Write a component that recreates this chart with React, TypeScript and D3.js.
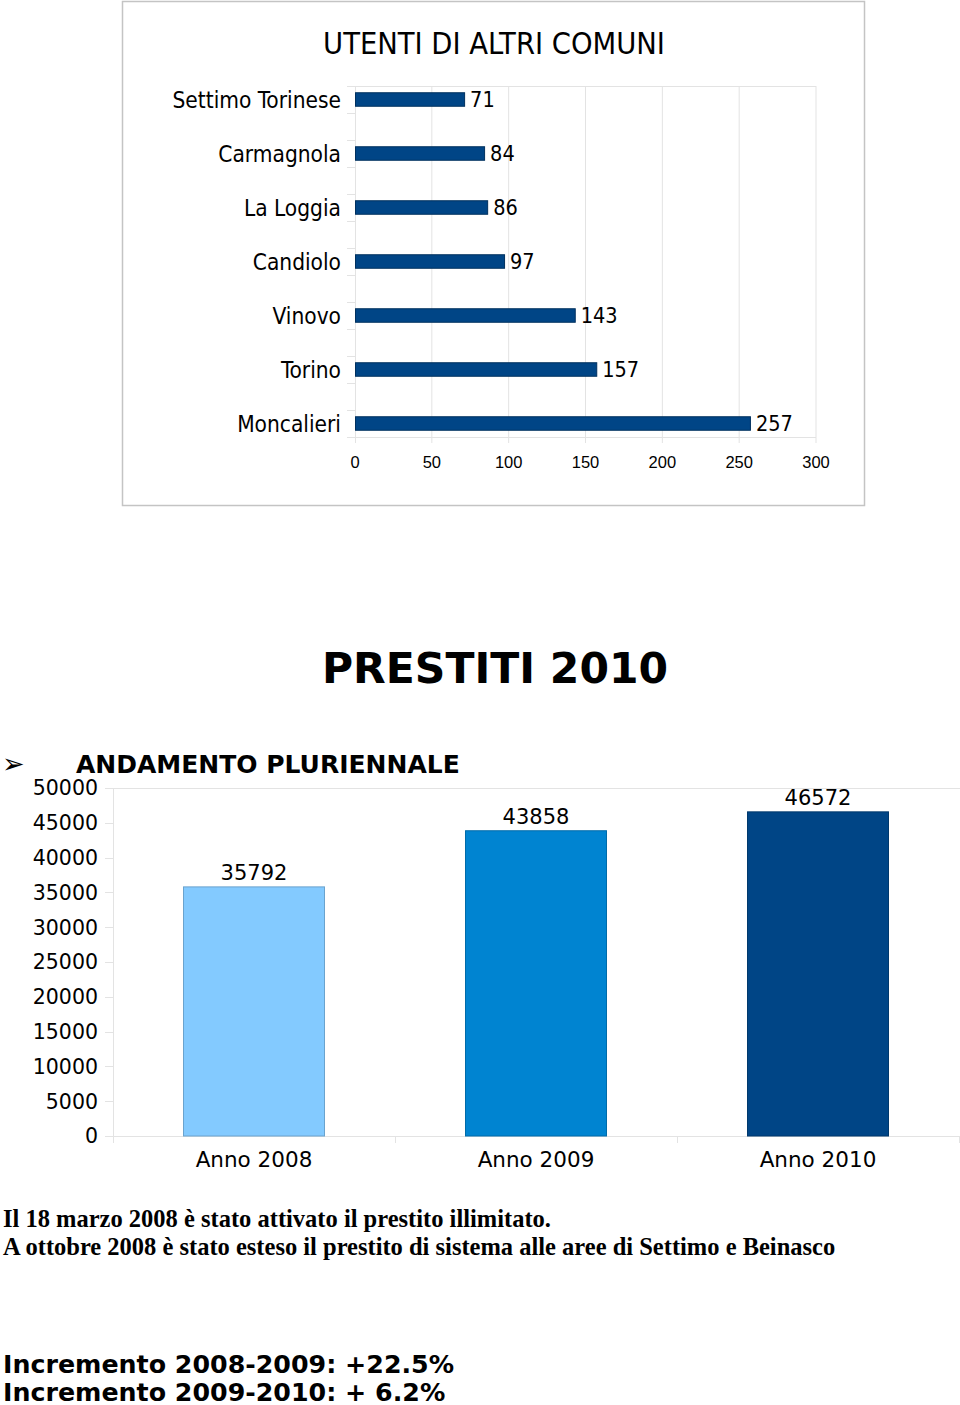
import React, { useEffect, useRef } from 'react';
import * as d3 from 'd3';

// top chart: users from other municipalities
const comuni = ['Settimo Torinese', 'Carmagnola', 'La Loggia', 'Candiolo', 'Vinovo', 'Torino', 'Moncalieri'];
const utenti = [71, 84, 86, 97, 143, 157, 257];
const utentiTicks = [0, 50, 100, 150, 200, 250, 300];

// bottom chart: loans per year
const anni = ['Anno 2008', 'Anno 2009', 'Anno 2010'];
const prestiti = [35792, 43858, 46572];
const prestitiColors = ['#83caff', '#0084d1', '#004586'];
const prestitiTicks = [0, 5000, 10000, 15000, 20000, 25000, 30000, 35000, 40000, 45000, 50000];

const noteLines = [
  'Il 18 marzo 2008 è stato attivato il prestito illimitato.',
  'A ottobre 2008 è stato esteso il prestito di sistema alle aree di Settimo e Beinasco',
];
const incrementi = ['Incremento 2008-2009: +22.5%', 'Incremento 2009-2010: + 6.2%'];

const COND = '"DejaVu Sans Condensed", "DejaVu Sans", sans-serif';
const VERD = '"DejaVu Sans", Verdana, sans-serif';
const GRID = '#e3e3e3';

const App = () => {
  const svgRef = useRef<SVGSVGElement | null>(null);

  useEffect(() => {
    const svg = d3.select(svgRef.current);
    svg.selectAll('*').remove();

    // ---------- top chart ----------
    svg.append('rect')
      .attr('x', 122.5).attr('y', 1.5).attr('width', 742).attr('height', 504)
      .attr('fill', 'white').attr('stroke', '#c4c4c4').attr('stroke-width', 1.5);

    svg.append('text')
      .attr('x', 494).attr('y', 54)
      .attr('text-anchor', 'middle')
      .attr('font-family', COND).attr('font-size', 30.5)
      .text('UTENTI DI ALTRI COMUNI');

    const x = d3.scaleLinear().domain([0, 300]).range([355, 816]);
    const y = d3.scaleBand().domain(comuni).range([86, 437]).paddingInner(0.5).paddingOuter(0);
    const bw = y.bandwidth();

    const top = svg.append('g');
    // vertical gridlines
    top.selectAll('.vgrid').data(utentiTicks.slice(1)).enter().append('line')
      .attr('x1', d => x(d)).attr('x2', d => x(d))
      .attr('y1', 86).attr('y2', 443)
      .attr('stroke', GRID);
    top.append('line').attr('x1', 355).attr('x2', 816).attr('y1', 86.5).attr('y2', 86.5).attr('stroke', GRID);
    top.append('line').attr('x1', 355).attr('x2', 816).attr('y1', 437.5).attr('y2', 437.5).attr('stroke', GRID);
    top.append('line').attr('x1', 355.5).attr('x2', 355.5).attr('y1', 86).attr('y2', 443).attr('stroke', GRID);

    // category ticks at band edges
    const edges: number[] = [];
    comuni.forEach(c => { edges.push(y(c)!); edges.push(y(c)! + bw); });
    top.selectAll('.ytick').data(edges).enter().append('line')
      .attr('x1', 347).attr('x2', 355)
      .attr('y1', d => Math.round(d) + 0.5).attr('y2', d => Math.round(d) + 0.5)
      .attr('stroke', GRID);

    top.selectAll('.xlab').data(utentiTicks).enter().append('text')
      .attr('x', d => x(d)).attr('y', 468)
      .attr('text-anchor', 'middle')
      .attr('font-family', '"Liberation Sans", Arial, sans-serif').attr('font-size', 16.5)
      .text(d => d);

    top.selectAll('.bar').data(comuni).enter().append('rect')
      .attr('x', x(0) + 0.5)
      .attr('y', d => y(d)! + bw / 4)
      .attr('width', (d, i) => x(utenti[i]) - x(0))
      .attr('height', bw / 2)
      .attr('fill', '#004586')
      .attr('stroke', '#00305e').attr('stroke-width', 1);

    top.selectAll('.val').data(comuni).enter().append('text')
      .attr('x', (d, i) => x(utenti[i]) + 6)
      .attr('y', d => y(d)! + bw / 2)
      .attr('dy', '0.36em')
      .attr('font-family', COND).attr('font-size', 21.5)
      .text((d, i) => utenti[i]);

    top.selectAll('.cat').data(comuni).enter().append('text')
      .attr('x', 341)
      .attr('y', d => y(d)! + bw / 2)
      .attr('dy', '0.36em')
      .attr('text-anchor', 'end')
      .attr('font-family', COND).attr('font-size', 22.5)
      .text(d => d);

    // ---------- headings ----------
    svg.append('text')
      .attr('x', 495).attr('y', 683)
      .attr('text-anchor', 'middle')
      .attr('font-family', VERD).attr('font-weight', 'bold').attr('font-size', 42.5)
      .text('PRESTITI 2010');

    svg.append('text')
      .attr('x', 2).attr('y', 773)
      .attr('font-family', VERD).attr('font-size', 27)
      .text('➢');
    svg.append('text')
      .attr('x', 76).attr('y', 773)
      .attr('font-family', VERD).attr('font-weight', 'bold').attr('font-size', 25)
      .text('ANDAMENTO PLURIENNALE');

    // ---------- bottom chart ----------
    const xb = d3.scaleBand().domain(anni).range([113, 959]).paddingInner(0.5).paddingOuter(0.25);
    const yb = d3.scaleLinear().domain([0, 50000]).range([1136, 788]);

    const bot = svg.append('g');
    bot.append('line').attr('x1', 113).attr('x2', 960).attr('y1', 788.5).attr('y2', 788.5).attr('stroke', GRID);
    bot.append('line').attr('x1', 113).attr('x2', 960).attr('y1', 1136.5).attr('y2', 1136.5).attr('stroke', GRID);
    bot.append('line').attr('x1', 113.5).attr('x2', 113.5).attr('y1', 788).attr('y2', 1143).attr('stroke', GRID);

    bot.selectAll('.ytick').data(prestitiTicks).enter().append('line')
      .attr('x1', 105).attr('x2', 113)
      .attr('y1', d => Math.round(yb(d)) + 0.5).attr('y2', d => Math.round(yb(d)) + 0.5)
      .attr('stroke', GRID);

    const seps = anni.map(a => xb(a)! - xb.step() * 0.25 + xb.step());
    bot.selectAll('.xtick').data(seps).enter().append('line')
      .attr('x1', d => Math.round(d) + 0.5).attr('x2', d => Math.round(d) + 0.5)
      .attr('y1', 1136).attr('y2', 1143)
      .attr('stroke', GRID);

    bot.selectAll('.ylab').data(prestitiTicks).enter().append('text')
      .attr('x', 98).attr('y', d => yb(d))
      .attr('dy', '0.36em')
      .attr('text-anchor', 'end')
      .attr('font-family', VERD).attr('font-size', 20.5)
      .text(d => d);

    bot.selectAll('.bar').data(anni).enter().append('rect')
      .attr('x', d => xb(d)!)
      .attr('y', (d, i) => yb(prestiti[i]))
      .attr('width', xb.bandwidth())
      .attr('height', (d, i) => yb(0) - yb(prestiti[i]))
      .attr('fill', (d, i) => prestitiColors[i])
      .attr('stroke', (d, i) => d3.color(prestitiColors[i])!.darker(0.6).toString())
      .attr('stroke-width', 1);

    bot.selectAll('.val').data(anni).enter().append('text')
      .attr('x', d => xb(d)! + xb.bandwidth() / 2)
      .attr('y', (d, i) => yb(prestiti[i]) - 7)
      .attr('text-anchor', 'middle')
      .attr('font-family', VERD).attr('font-size', 21)
      .text((d, i) => prestiti[i]);

    bot.selectAll('.cat').data(anni).enter().append('text')
      .attr('x', d => xb(d)! + xb.bandwidth() / 2)
      .attr('y', 1167)
      .attr('text-anchor', 'middle')
      .attr('font-family', VERD).attr('font-size', 21.5)
      .text(d => d);

    // ---------- notes ----------
    svg.selectAll('.note').data(noteLines).enter().append('text')
      .attr('x', 3).attr('y', (d, i) => 1227 + i * 28)
      .attr('font-family', '"Liberation Serif", "Times New Roman", serif')
      .attr('font-weight', 'bold').attr('font-size', 24.5)
      .text(d => d);

    svg.selectAll('.incr').data(incrementi).enter().append('text')
      .attr('x', 3).attr('y', (d, i) => 1373 + i * 28)
      .attr('font-family', VERD).attr('font-weight', 'bold').attr('font-size', 25.3)
      .text(d => d);
  }, []);

  return (
    <div style={{ position: 'absolute', left: 0, top: 0, width: 960, height: 1405, background: 'white' }}>
      <svg ref={svgRef} width={960} height={1405} style={{ display: 'block' }}></svg>
    </div>
  );
};

export default App;
